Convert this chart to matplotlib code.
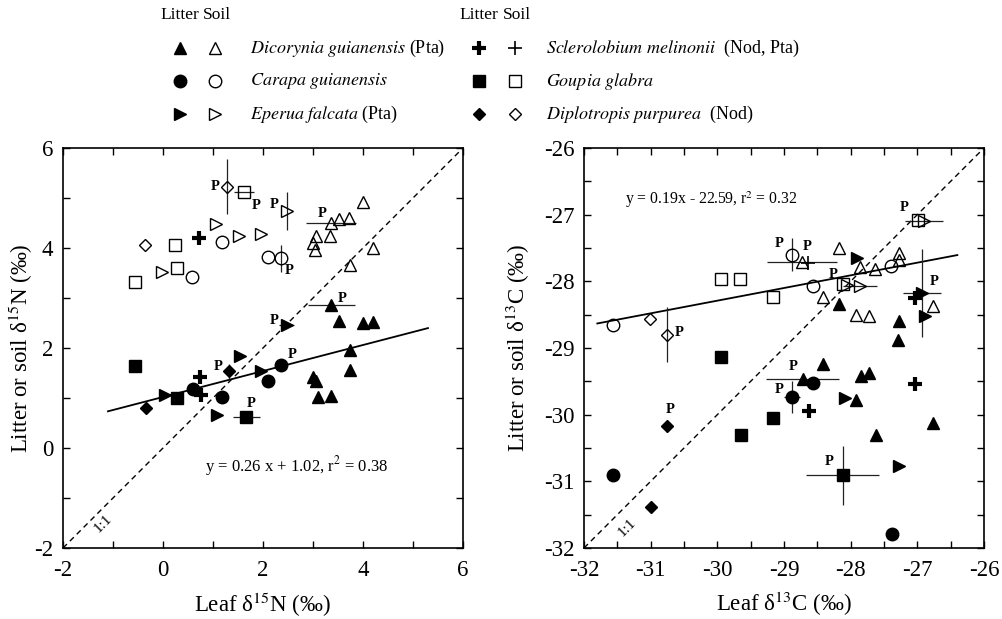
import matplotlib
matplotlib.use("Agg")
import matplotlib.pyplot as plt
import numpy as np

plt.rcParams["font.family"] = ["Liberation Serif", "DejaVu Serif"]
plt.rcParams["mathtext.fontset"] = "stix"
plt.rcParams["axes.unicode_minus"] = False

# ---------------- nitrogen: leaf d15N vs litter / soil d15N ----------------
n_dicorynia_litter = ([3.51, 4.00, 4.19, 3.74, 3.74, 3.00, 3.05, 3.09, 3.35],
                      [2.55, 2.51, 2.53, 1.97, 1.57, 1.42, 1.34, 1.02, 1.04])
n_dicorynia_soil = ([3.99, 3.72, 3.51, 3.06, 3.34, 3.00, 3.04, 4.19, 3.74],
                    [4.93, 4.60, 4.59, 4.23, 4.23, 4.10, 3.97, 4.00, 3.67])
n_carapa_litter = ([2.09, 1.18, 0.59], [1.35, 1.02, 1.19])
n_carapa_soil = ([1.18, 0.57, 2.09], [4.13, 3.43, 3.83])
n_eperua_litter = ([0.03, 1.54, 1.96, 1.08], [1.06, 1.84, 1.54, 0.67])
n_eperua_soil = ([1.05, 1.52, 1.96, -0.03], [4.48, 4.23, 4.28, 3.53])
n_goupia_litter = ([-0.57, 0.27], [1.64, 1.01])
n_goupia_soil = ([-0.57, 0.24, 0.27], [3.33, 4.07, 3.61])
n_diplotropis_litter = ([-0.34], [0.81])
n_diplotropis_soil = ([-0.37], [4.07])
n_sclerolobium_litter = ([0.71, 0.73, 0.76], [4.20, 1.42, 1.07])
n_sclerolobium_soil = ([], [])

# plantation trees (P) with their error bars
n_p_species = ["dicorynia", "dicorynia", "carapa", "carapa", "eperua", "eperua",
               "goupia", "goupia", "diplotropis", "diplotropis"]
n_p_kind = ["litter", "soil"] * 5
n_p_x = [3.36, 3.35, 2.36, 2.36, 2.47, 2.47, 1.66, 1.62, 1.32, 1.28]
n_p_y = [2.86, 4.51, 1.66, 3.80, 2.46, 4.73, 0.63, 5.13, 1.54, 5.23]
n_p_xerr = [0.47, 0.50, 0.0, 0.0, 0.15, 0.0, 0.27, 0.20, 0.0, 0.0]
n_p_yerr = [0.0, 0.0, 0.0, 0.27, 0.0, 0.38, 0.0, 0.0, 0.15, 0.55]

n_fit = (0.26, 1.02, 0.38)
n_fit_range = (-1.1, 5.3)

# ---------------- carbon: leaf d13C vs litter / soil d13C ----------------
c_dicorynia_litter = ([-28.17, -27.27, -27.29, -28.42, -27.85, -27.73, -27.92, -26.76, -27.62],
                      [-28.34, -28.60, -28.88, -29.24, -29.42, -29.37, -29.78, -30.13, -30.30])
c_dicorynia_soil = ([-28.17, -27.86, -27.64, -27.27, -27.27, -26.77, -28.42, -27.92, -27.73],
                    [-27.50, -27.78, -27.82, -27.57, -27.68, -28.37, -28.23, -28.50, -28.52])
c_carapa_litter = ([-31.57, -28.56, -27.38], [-30.91, -29.53, -31.79])
c_carapa_soil = ([-31.56, -28.56, -27.40], [-28.66, -28.07, -27.77])
c_eperua_litter = ([-27.90, -28.09, -27.27, -26.88], [-27.65, -29.75, -30.77, -28.52])
c_eperua_soil = ([-28.05, -27.86], [-28.05, -28.07])
c_goupia_litter = ([-29.95, -29.17, -29.64], [-29.14, -30.05, -30.30])
c_goupia_soil = ([-29.95, -29.66, -29.17, -26.99], [-27.97, -27.97, -28.23, -27.08])
c_diplotropis_litter = ([-31.00], [-31.39])
c_diplotropis_soil = ([-31.01], [-28.56])
c_sclerolobium_litter = ([-28.63, -27.04, -27.04], [-29.94, -29.54, -28.25])
c_sclerolobium_soil = ([-28.64], [-27.73])

c_p_species = ["dicorynia", "dicorynia", "carapa", "carapa", "eperua", "eperua",
               "goupia", "goupia", "diplotropis", "diplotropis"]
c_p_kind = ["litter", "soil"] * 5
c_p_x = [-28.72, -28.73, -28.88, -28.88, -26.93, -26.90, -28.12, -28.12, -30.75, -30.75]
c_p_y = [-29.46, -27.71, -29.73, -27.60, -28.18, -27.10, -30.91, -28.04, -30.17, -28.80]
c_p_xerr = [0.55, 0.53, 0.12, 0.0, 0.29, 0.29, 0.55, 0.0, 0.0, 0.0]
c_p_yerr = [0.0, 0.0, 0.24, 0.25, 0.66, 0.0, 0.44, 0.0, 0.0, 0.41]

# one more soil sample of E. falcata carrying an error bar
c_extra_err_x = [-27.86]
c_extra_err_y = [-28.07]
c_extra_err_xerr = [0.25]

c_fit = (0.19, -22.59, 0.32)
c_fit_range = (-31.8, -26.4)

species_names = ["dicorynia", "carapa", "eperua", "sclerolobium", "goupia", "diplotropis"]
legend_labels = [
    r"$\mathit{Dicorynia\ guianensis}$ (Pta)",
    r"$\mathit{Carapa\ guianensis}$",
    r"$\mathit{Eperua\ falcata}$ (Pta)",
    r"$\mathit{Sclerolobium\ melinonii}$  (Nod, Pta)",
    r"$\mathit{Goupia\ glabra}$",
    r"$\mathit{Diplotropis\ purpurea}$  (Nod)",
]

# ---------------- marker styles ----------------
MARKERS = {"dicorynia": ("^", 9.0), "carapa": ("o", 9.0), "eperua": (">", 9.0),
           "goupia": ("s", 8.5), "diplotropis": ("D", 6.3), "sclerolobium": ("+", 10.5)}


def style(sp, kind):
    m, ms = MARKERS[sp]
    if sp == "sclerolobium":
        return dict(marker="+", ms=ms, mec="black", mew=3.0 if kind == "litter" else 1.2)
    if kind == "litter":
        return dict(marker=m, ms=ms, mfc="black", mec="black", mew=1.0)
    return dict(marker=m, ms=ms, mfc="none", mec="black", mew=1.0)


def draw_series(ax, sp, kind, xy):
    x, y = xy
    if len(x):
        ax.plot(x, y, linestyle="none", zorder=4, **style(sp, kind))


# label offsets (pixels) of the "P" tags
n_p_offset = [(11, 7), (-8, 9), (11, 11), (8, -12), (-12, 5), (-12, 7), (5, 13),
              (12, -14), (-11, 4), (-12, 0)]
c_p_offset = [(-9, 12), (5, 15), (-13, 7), (-13, 11), (12, 12), (-20, 14), (-13, 14),
              (-9, 10), (3, 17), (12, 2)]

W, H = 1002, 619
fig = plt.figure(figsize=(W / 100, H / 100), dpi=100)

ax_n = fig.add_axes([63 / W, 1 - 548 / H, 400 / W, 400 / H])
ax_c = fig.add_axes([584 / W, 1 - 548 / H, 400 / W, 400 / H])


def draw_panel(ax, data, p_sp, p_kind, p_x, p_y, p_xerr, p_yerr, p_off, fit, fit_range,
               lims, major, minor):
    lo, hi = lims
    ax.plot([lo, hi], [lo, hi], ls=(0, (4, 3)), color="black", lw=1.0, zorder=2)
    xf = np.array(fit_range)
    ax.plot(xf, fit[0] * xf + fit[1], color="black", lw=1.3, zorder=3)
    for (sp, kind), xy in data.items():
        draw_series(ax, sp, kind, xy)
    for sp, kind, x, y, xe, ye, off in zip(p_sp, p_kind, p_x, p_y, p_xerr, p_yerr, p_off):
        if xe or ye:
            ax.errorbar(x, y, xerr=xe if xe else None, yerr=ye if ye else None,
                        fmt="none", ecolor="#222222", elinewidth=0.9, capsize=0, zorder=3)
        ax.plot(x, y, linestyle="none", zorder=4, **style(sp, kind))
        ax.annotate("P", (x, y), xytext=off, textcoords="offset pixels", fontsize=10.5,
                    fontweight="bold", ha="center", va="center", zorder=5)
    ax.set_xlim(lo, hi)
    ax.set_ylim(lo, hi)
    ax.set_xticks(np.arange(lo, hi + 0.01, major))
    ax.set_yticks(np.arange(lo, hi + 0.01, major))
    ax.set_xticks(np.arange(lo, hi + 0.01, minor), minor=True)
    ax.set_yticks(np.arange(lo, hi + 0.01, minor), minor=True)
    ax.xaxis.set_major_formatter(matplotlib.ticker.FormatStrFormatter("%d"))
    ax.yaxis.set_major_formatter(matplotlib.ticker.FormatStrFormatter("%d"))
    ax.tick_params(which="both", direction="in", top=True, right=True, length=5, width=1.0,
                   labelsize=16.5)
    ax.tick_params(axis="x", pad=9)
    ax.tick_params(axis="y", pad=7)
    for s in ax.spines.values():
        s.set_linewidth(1.2)


n_data = {
    ("dicorynia", "litter"): n_dicorynia_litter, ("dicorynia", "soil"): n_dicorynia_soil,
    ("carapa", "litter"): n_carapa_litter, ("carapa", "soil"): n_carapa_soil,
    ("eperua", "litter"): n_eperua_litter, ("eperua", "soil"): n_eperua_soil,
    ("goupia", "litter"): n_goupia_litter, ("goupia", "soil"): n_goupia_soil,
    ("diplotropis", "litter"): n_diplotropis_litter, ("diplotropis", "soil"): n_diplotropis_soil,
    ("sclerolobium", "litter"): n_sclerolobium_litter, ("sclerolobium", "soil"): n_sclerolobium_soil,
}
c_data = {
    ("dicorynia", "litter"): c_dicorynia_litter, ("dicorynia", "soil"): c_dicorynia_soil,
    ("carapa", "litter"): c_carapa_litter, ("carapa", "soil"): c_carapa_soil,
    ("eperua", "litter"): c_eperua_litter, ("eperua", "soil"): c_eperua_soil,
    ("goupia", "litter"): c_goupia_litter, ("goupia", "soil"): c_goupia_soil,
    ("diplotropis", "litter"): c_diplotropis_litter, ("diplotropis", "soil"): c_diplotropis_soil,
    ("sclerolobium", "litter"): c_sclerolobium_litter, ("sclerolobium", "soil"): c_sclerolobium_soil,
}

draw_panel(ax_n, n_data, n_p_species, n_p_kind, n_p_x, n_p_y, n_p_xerr, n_p_yerr, n_p_offset,
           n_fit, n_fit_range, (-2, 6), 2, 1)
draw_panel(ax_c, c_data, c_p_species, c_p_kind, c_p_x, c_p_y, c_p_xerr, c_p_yerr, c_p_offset,
           c_fit, c_fit_range, (-32, -26), 1, 0.5)
ax_c.errorbar(c_extra_err_x, c_extra_err_y, xerr=c_extra_err_xerr, fmt="none",
              ecolor="#222222", elinewidth=0.9, capsize=0, zorder=3)

# regression equations and 1:1 tags
ax_n.text(0.84, -0.36, "y = %.2f x + %.2f, r$^2$ = %.2f" % n_fit, fontsize=12,
          ha="left", va="center")
ax_c.text(-31.39, -26.78, "y = %.2fx - %.2f, r$^2$ = %.2f" % (c_fit[0], -c_fit[1], c_fit[2]),
          fontsize=11.3, ha="left", va="center")
ax_n.text(-1.2, -1.52, "1:1", rotation=45, fontsize=11, ha="center", va="center")
ax_c.text(-31.36, -31.7, "1:1", rotation=45, fontsize=11, ha="center", va="center")

ax_n.set_xlabel("Leaf δ$^{15}$N (‰)", fontsize=16.5)
ax_n.set_ylabel("Litter or soil δ$^{15}$N (‰)", fontsize=16.5)
ax_c.set_xlabel("Leaf δ$^{13}$C (‰)", fontsize=16.5)
ax_c.set_ylabel("Litter or soil δ$^{13}$C (‰)", fontsize=16.5)
ax_n.xaxis.set_label_coords(0.5, -0.105)
ax_c.xaxis.set_label_coords(0.5, -0.105)
ax_n.yaxis.set_label_coords(-0.07, 0.5)
ax_c.yaxis.set_label_coords(-0.13, 0.5)

# ---------------- key above the panels (pixel coordinates) ----------------
ax_k = fig.add_axes([0, 0, 1, 1], zorder=-1)
ax_k.set_xlim(0, W)
ax_k.set_ylim(H, 0)
ax_k.axis("off")
groups = [(180, 215, 250), (479, 515, 546)]
rows = [48, 81, 114]
for g, (xl, xs, xt) in enumerate(groups):
    ax_k.text(xl, 15, "Litter", fontsize=12.5, ha="center", va="center")
    ax_k.text(xs + 2, 15, "Soil", fontsize=12.5, ha="center", va="center")
    for r, yr in enumerate(rows):
        sp = species_names[g * 3 + r]
        ax_k.plot([xl], [yr], linestyle="none", **style(sp, "litter"))
        ax_k.plot([xs], [yr], linestyle="none", **style(sp, "soil"))
        ax_k.text(xt, yr, legend_labels[g * 3 + r], fontsize=13, ha="left", va="center")

fig.savefig("out.png", dpi=100, facecolor="white")
